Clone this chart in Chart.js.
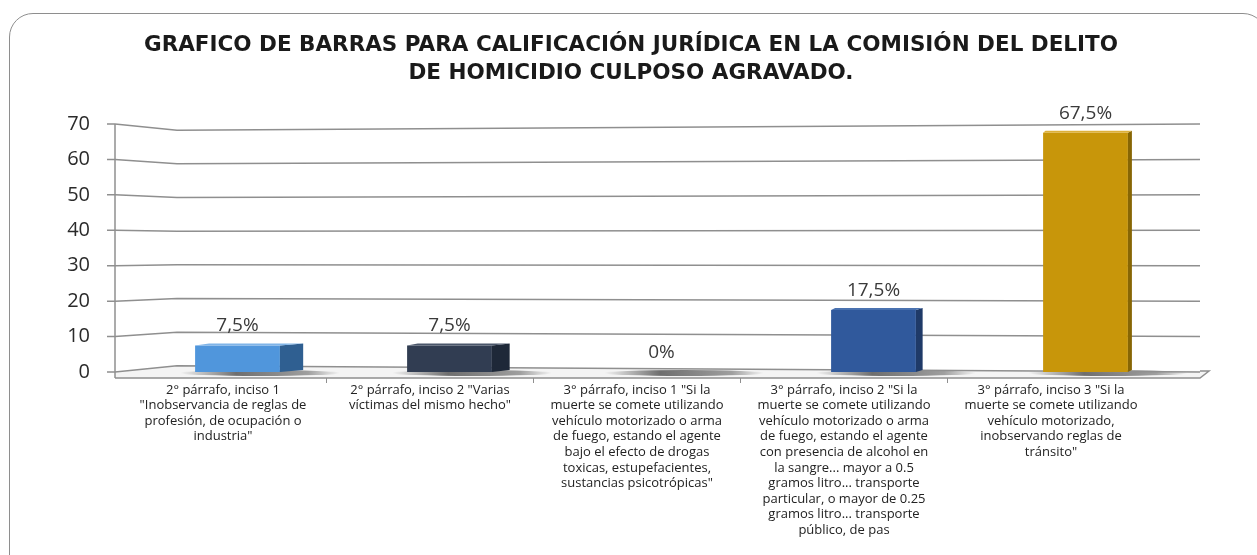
<!DOCTYPE html>
<html><head><meta charset="utf-8">
<script src="https://cdn.jsdelivr.net/npm/chart.js@4.4.1/dist/chart.umd.min.js"></script>
<style>
html,body{margin:0;padding:0;background:#fff;}
#wrap{position:relative;width:1257px;height:555px;overflow:hidden;}
#frame{position:absolute;left:9px;top:13px;width:1258px;height:590px;border:1.5px solid #8e8e8e;border-radius:24px;pointer-events:none;box-sizing:border-box;}
canvas{position:absolute;left:0;top:0;}
</style></head><body>
<div id="wrap"><canvas id="c" width="1257" height="555"></canvas><div id="frame"></div></div>
<script>
const titleLines = [
  'GRAFICO DE BARRAS PARA CALIFICACIÓN JURÍDICA EN LA COMISIÓN DEL DELITO',
  'DE HOMICIDIO CULPOSO AGRAVADO.'
];
const categories = [
  ['2° párrafo, inciso 1', '"Inobservancia de reglas de', 'profesión, de ocupación o', 'industria"'],
  ['2° párrafo, inciso 2 "Varias', 'víctimas del mismo hecho"'],
  ['3° párrafo, inciso 1 "Si la', 'muerte se comete utilizando', 'vehículo motorizado o arma', 'de fuego, estando el agente', 'bajo el efecto de drogas', 'toxicas, estupefacientes,', 'sustancias psicotrópicas"'],
  ['3° párrafo, inciso 2 "Si la', 'muerte se comete utilizando', 'vehículo motorizado o arma', 'de fuego, estando el agente', 'con presencia de alcohol en', 'la sangre... mayor a 0.5', 'gramos litro... transporte', 'particular, o mayor de 0.25', 'gramos litro... transporte', 'público, de pas'],
  ['3° párrafo, inciso 3 "Si la', 'muerte se comete utilizando', 'vehículo motorizado,', 'inobservando reglas de', 'tránsito"']
];
const values = [7.5, 7.5, 0, 17.5, 67.5];
const yTicks = [0, 10, 20, 30, 40, 50, 60, 70];

const FONT = "'Open Sans', sans-serif";
const fmt = v => v.toLocaleString('es-ES') + '%';

const threeD = {
  id: 'threeD',
  beforeDatasetsDraw(chart) {
    const {ctx, chartArea: a, scales: {y, xl}} = chart;
    const yTop = y.getPixelForValue(yTicks[yTicks.length - 1]);
    const y0 = y.getPixelForValue(yTicks[0]);
    const mid = (yTop + y0) / 2;
    const depth = 62;
    const yb = v => mid + (y.getPixelForValue(v) - mid) * 0.95;
    ctx.save();
    ctx.fillStyle = '#f4f4f4';
    ctx.beginPath();
    ctx.moveTo(a.left, y0);
    ctx.lineTo(a.left + depth, yb(0));
    ctx.lineTo(a.right + 9, y0 - 1);
    ctx.lineTo(a.right, y0 + 6);
    ctx.lineTo(a.left, y0 + 6);
    ctx.closePath();
    ctx.fill();
    const meta = chart.getDatasetMeta(0);
    meta.data.forEach(bar => {
      const l = bar.x - bar.width / 2 - 15, r = bar.x + bar.width / 2 + 60;
      const g = ctx.createLinearGradient(l, 0, r, 0);
      g.addColorStop(0, 'rgba(0,0,0,0)');
      g.addColorStop(0.35, 'rgba(0,0,0,0.55)');
      g.addColorStop(0.8, 'rgba(0,0,0,0.35)');
      g.addColorStop(1, 'rgba(0,0,0,0)');
      ctx.fillStyle = g;
      ctx.beginPath();
      ctx.ellipse((l + r) / 2, y0 + 1, (r - l) / 2, 3, 0, 0, Math.PI * 2);
      ctx.fill();
    });
    ctx.strokeStyle = '#8f8f8f';
    ctx.lineWidth = 1.5;
    yTicks.forEach(v => {
      const yf = y.getPixelForValue(v);
      ctx.beginPath();
      ctx.moveTo(a.left - 8, yf);
      ctx.lineTo(a.left, yf);
      ctx.lineTo(a.left + depth, yb(v));
      ctx.lineTo(a.right, yf);
      ctx.stroke();
    });
    ctx.beginPath();
    ctx.moveTo(a.left, y0 + 6);
    ctx.lineTo(a.right, y0 + 6);
    ctx.lineTo(a.right + 9, y0 - 1);
    ctx.lineTo(a.right, y0 - 1);
    ctx.stroke();
    ctx.beginPath();
    ctx.moveTo(a.left, yTop);
    ctx.lineTo(a.left, y0 + 6);
    ctx.stroke();
    ctx.lineWidth = 1;
    for (let i = 0; i < categories.length - 1; i++) {
      const x = xl.getPixelForValue(i + 0.5);
      ctx.beginPath();
      ctx.moveTo(x, y0 + 6);
      ctx.lineTo(x, y0 + 11);
      ctx.stroke();
    }
    ctx.restore();
  },
  afterDatasetsDraw(chart) {
    const {ctx} = chart;
    const ds = chart.data.datasets[0];
    const meta = chart.getDatasetMeta(0);
    ctx.save();
    meta.data.forEach((bar, i) => {
      const l = bar.x - bar.width / 2, r = bar.x + bar.width / 2;
      const top = bar.y, base = bar.base;
      const s = Math.max(4, 0.026 * (1175 - r));
      if (base - top > 0.5) {
        ctx.fillStyle = ds.sideColor[i];
        ctx.beginPath();
        ctx.moveTo(r, top); ctx.lineTo(r + s, top - 2); ctx.lineTo(r + s, base - 2); ctx.lineTo(r, base);
        ctx.closePath(); ctx.fill();
        ctx.fillStyle = ds.topColor[i];
        ctx.beginPath();
        ctx.moveTo(l, top); ctx.lineTo(l + s * 0.6, top - 2); ctx.lineTo(r + s, top - 2); ctx.lineTo(r, top);
        ctx.closePath(); ctx.fill();
      }
      ctx.fillStyle = '#3a3a3a';
      ctx.font = '19px ' + FONT;
      ctx.textAlign = 'center';
      ctx.textBaseline = 'alphabetic';
      ctx.fillText(fmt(values[i]), bar.x, top - 14);
    });
    ctx.restore();
  }
};

const barStep = 212, barFirst = 237.5, labStep = 207, labFirst = 223;

new Chart(document.getElementById('c'), {
  type: 'bar',
  data: {
    datasets: [{
      data: values.map((v, i) => ({x: i, y: v})),
      backgroundColor: ['#5096dc', '#313d52', '#7f7f7f', '#30599c', '#c8960a'],
      sideColor: ['#2f5f91', '#1e2838', '#555555', '#1f3a68', '#876604'],
      topColor: ['#7fb4e8', '#4a566a', '#999999', '#4a72b0', '#ddb03a'],
      borderWidth: 0,
      barPercentage: 0.4,
      categoryPercentage: 1,
      xAxisID: 'x',
      yAxisID: 'y'
    }]
  },
  options: {
    responsive: false,
    animation: false,
    events: [],
    layout: {padding: {left: 62, right: 57, top: 0, bottom: 0}},
    plugins: {
      legend: {display: false},
      tooltip: {enabled: false},
      title: {
        display: true,
        text: titleLines,
        color: '#1a1a1a',
        font: {family: "'DejaVu Sans', sans-serif", size: 21.5, weight: 'bold', lineHeight: 1.3023},
        padding: {top: 31, bottom: 37}
      }
    },
    scales: {
      x: {
        type: 'linear',
        display: false,
        offset: false,
        min: -(barFirst - 115) / barStep,
        max: -(barFirst - 115) / barStep + 1085 / barStep
      },
      xl: {
        type: 'linear',
        position: 'bottom',
        offset: false,
        min: -(labFirst - 115) / labStep,
        max: -(labFirst - 115) / labStep + 1085 / labStep,
        grid: {display: false},
        border: {display: false},
        afterBuildTicks: axis => { axis.ticks = categories.map((c, i) => ({value: i})); },
        afterFit: s => { s.height = 555 - 372; },
        ticks: {
          autoSkip: false,
          maxRotation: 0,
          minRotation: 0,
          padding: 2,
          color: '#222',
          font: {family: FONT, size: 13, lineHeight: 1.2},
          callback: v => categories[v]
        }
      },
      y: {
        type: 'linear',
        min: yTicks[0],
        max: yTicks[yTicks.length - 1],
        grid: {display: false},
        border: {display: false},
        afterFit: s => { s.width = 53; },
        afterBuildTicks: axis => { axis.ticks = yTicks.map(v => ({value: v})); },
        ticks: {
          padding: 17,
          color: '#2a2a2a',
          font: {family: FONT, size: 20}
        }
      }
    }
  },
  plugins: [threeD]
});
</script>
</body></html>
